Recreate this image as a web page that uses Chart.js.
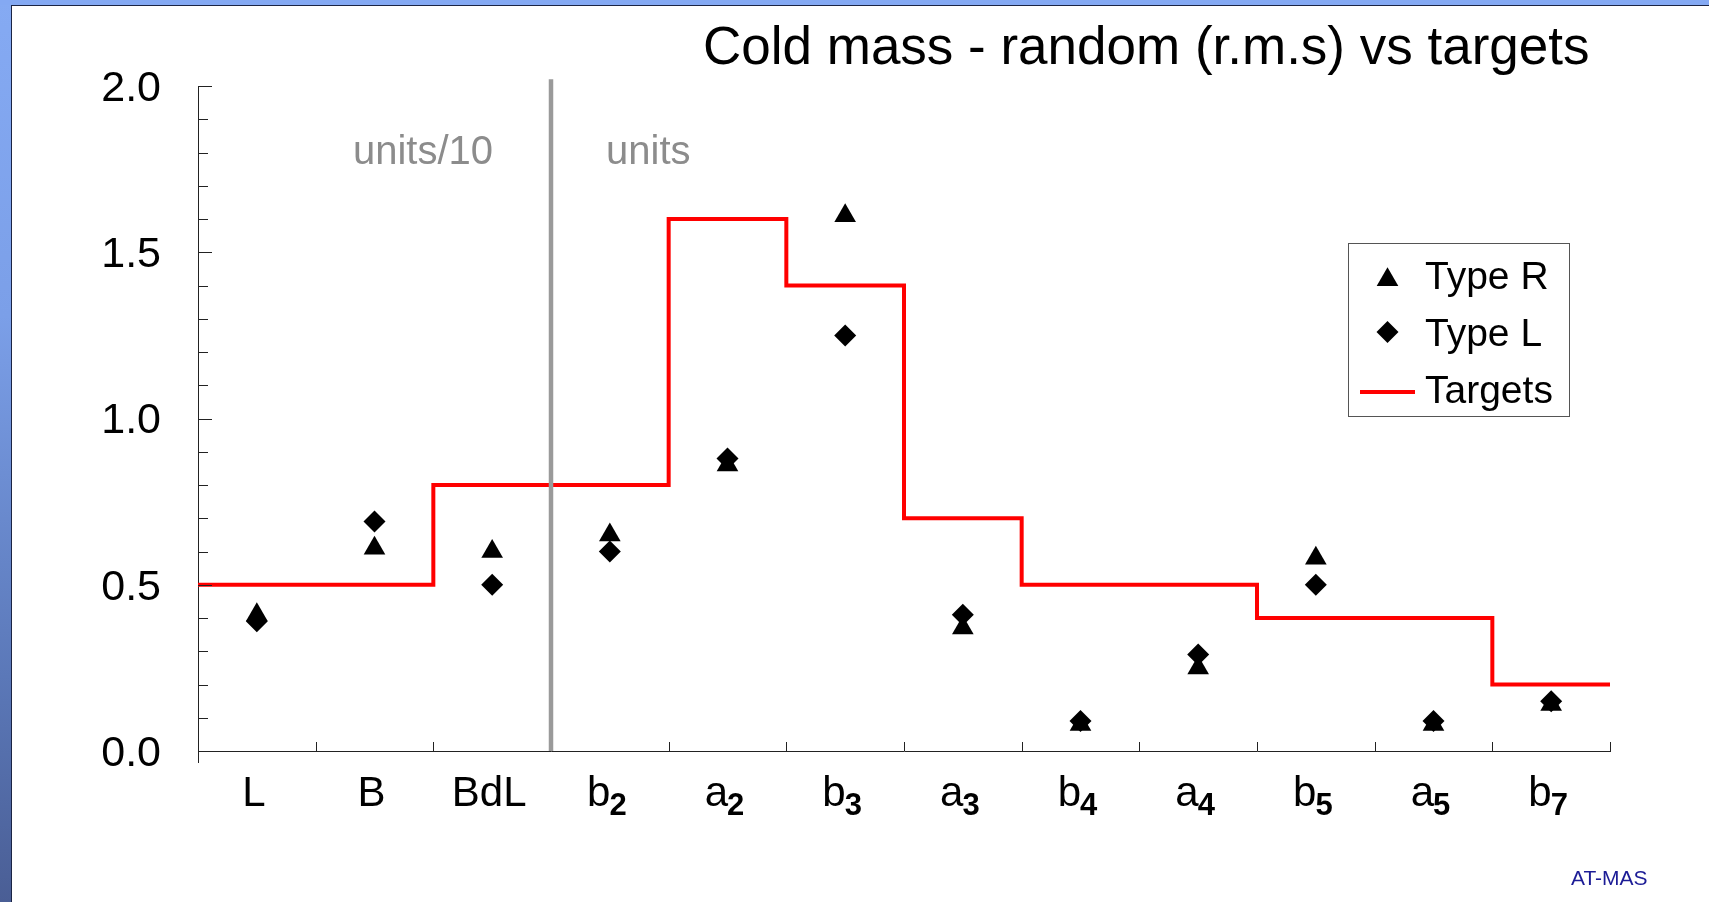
<!DOCTYPE html>
<html>
<head>
<meta charset="utf-8">
<script src="https://cdn.jsdelivr.net/npm/chart.js@4.4.0/dist/chart.umd.min.js"></script>
<style>
html, body { margin:0; padding:0; width:1709px; height:902px; overflow:hidden; }
body { position:relative; font-family:'Liberation Sans', Arial, sans-serif;
  background:linear-gradient(to bottom, #85aaf3 0%, #7b9fe8 35%, #5b78b8 75%, #4a5e95 100%); }
#topband { position:absolute; left:0; top:0; width:1709px; height:5px; background:#84a9f3; }
#sheet { position:absolute; left:11px; top:5px; right:0; bottom:0; background:#fff;
  border-left:1px solid #1b2444; border-top:1px solid #1b2444; }
#title { position:absolute; left:703px; top:14px; font-size:53px; line-height:64px; color:#000; white-space:nowrap; }
#footer { position:absolute; left:1571px; top:866px; font-size:21px; line-height:24px; color:#1c1c96; white-space:nowrap; }
canvas { position:absolute; left:0; top:0; }
</style>
</head>
<body>
<div id="topband"></div>
<div id="sheet"></div>
<canvas id="Chart" width="1709" height="902"></canvas>
<div id="title">Cold mass - random (r.m.s) vs targets</div>
<div id="footer">AT-MAS</div>
<script>
// categories (trailing digit is drawn as subscript)
var categories = ['L', 'B', 'BdL', 'b2', 'a2', 'b3', 'a3', 'b4', 'a4', 'b5', 'a5', 'b7'];
var typeR = [0.41, 0.61, 0.60, 0.65, 0.86, 1.61, 0.37, 0.08, 0.25, 0.58, 0.08, 0.14];
var typeL = [0.39, 0.69, 0.50, 0.60, 0.88, 1.25, 0.41, 0.09, 0.29, 0.50, 0.09, 0.15];
// target step line: left edge of each step (in category units) and its level
var targetEdges = [0, 2, 4, 5, 6, 7, 9, 11, 12];
var targetValues = [0.5, 0.8, 1.6, 1.4, 0.7, 0.5, 0.4, 0.2, 0.2];
var yTicks = [0, 0.5, 1.0, 1.5, 2.0];
var regionLabels = ['units/10', 'units'];

var FONT = "'Liberation Sans', Arial, sans-serif";
Chart.defaults.font.family = FONT;

function triangle(ctx, x, y, r) {
  ctx.beginPath();
  ctx.moveTo(x, y - r);
  ctx.lineTo(x + 0.866 * r, y + r / 2);
  ctx.lineTo(x - 0.866 * r, y + r / 2);
  ctx.closePath();
  ctx.fill();
}
function diamond(ctx, x, y, r) {
  ctx.beginPath();
  ctx.moveTo(x - r, y);
  ctx.lineTo(x, y - r);
  ctx.lineTo(x + r, y);
  ctx.lineTo(x, y + r);
  ctx.closePath();
  ctx.fill();
}

var decor = {
  id: 'decor',
  afterDatasetsDraw: function(chart) {
    var ctx = chart.ctx, a = chart.chartArea;
    var x = chart.scales.x, y = chart.scales.y, xt = chart.scales.xt;
    ctx.save();

    // inner ticks on y axis (major 0.5, minor 0.1)
    ctx.strokeStyle = '#222';
    ctx.lineWidth = 1;
    ctx.beginPath();
    for (var i = 0; i <= 20; i++) {
      var py = Math.round(y.getPixelForValue(i / 10)) + 0.5;
      ctx.moveTo(a.left, py);
      ctx.lineTo(a.left + (i % 5 === 0 ? 14 : 10), py);
    }
    // y axis runs a little below zero
    ctx.moveTo(a.left + 0.5, a.bottom);
    ctx.lineTo(a.left + 0.5, a.bottom + 12);
    // x ticks at category boundaries, pointing up
    for (var k = 1; k <= categories.length; k++) {
      var px = Math.round(xt.getPixelForValue(k)) + 0.5;
      ctx.moveTo(px, a.bottom);
      ctx.lineTo(px, a.bottom - 9);
    }
    ctx.stroke();

    // gray divider between BdL and b2
    var xd = xt.getPixelForValue(3);
    ctx.strokeStyle = '#9a9a9a';
    ctx.lineWidth = 4.5;
    ctx.beginPath();
    ctx.moveTo(xd, y.getPixelForValue(2.02));
    ctx.lineTo(xd, a.bottom);
    ctx.stroke();

    // region notes
    ctx.fillStyle = '#8c8c8c';
    ctx.font = '40px ' + FONT;
    ctx.textBaseline = 'middle';
    ctx.textAlign = 'right';
    ctx.fillText(regionLabels[0], xd - 58, y.getPixelForValue(1.80));
    ctx.textAlign = 'left';
    ctx.fillText(regionLabels[1], xd + 55, y.getPixelForValue(1.80));

    // category labels with subscripts
    ctx.fillStyle = '#000';
    ctx.textBaseline = 'alphabetic';
    ctx.textAlign = 'left';
    categories.forEach(function(name, i) {
      var m = name.match(/^(\D+)(\d*)$/);
      var base = m[1], sub = m[2];
      ctx.font = '42px ' + FONT;
      var wb = ctx.measureText(base).width;
      ctx.font = 'bold 31px ' + FONT;
      var ws = sub ? ctx.measureText(sub).width - 1 : 0;
      var start = x.getPixelForValue(i) - (wb + ws) / 2 - 3;
      ctx.font = '42px ' + FONT;
      ctx.fillText(base, start, a.bottom + 55);
      if (sub) {
        ctx.font = 'bold 31px ' + FONT;
        ctx.fillText(sub, start + wb - 1, a.bottom + 64);
      }
    });

    // legend box
    var ds = chart.data.datasets;
    ctx.strokeStyle = '#555';
    ctx.lineWidth = 1;
    ctx.strokeRect(1348.5, 243.5, 221, 173);
    ctx.fillStyle = '#000';
    triangle(ctx, 1387.5, 279.8, 12.5);
    diamond(ctx, 1387.5, 332, 11);
    ctx.strokeStyle = '#ff0000';
    ctx.lineWidth = 4;
    ctx.beginPath();
    ctx.moveTo(1360, 392);
    ctx.lineTo(1415, 392);
    ctx.stroke();
    ctx.font = '39px ' + FONT;
    ctx.textBaseline = 'middle';
    ctx.fillText(ds[0].label, 1425, 278);
    ctx.fillText(ds[1].label, 1425, 335);
    ctx.fillText(ds[2].label, 1425, 392);

    ctx.restore();
  }
};

var ctx = document.getElementById('Chart').getContext('2d');
var coldMassChart = new Chart(ctx, {
  type: 'line',
  data: {
    labels: categories,
    datasets: [{
      label: 'Type R',
      data: typeR,
      showLine: false,
      pointStyle: 'triangle',
      pointRadius: 12.5,
      pointBackgroundColor: '#000',
      pointBorderColor: '#000',
      pointBorderWidth: 0
    }, {
      label: 'Type L',
      data: typeL,
      showLine: false,
      pointStyle: 'rectRot',
      pointRadius: 11,
      pointBackgroundColor: '#000',
      pointBorderColor: '#000',
      pointBorderWidth: 0
    }, {
      label: 'Targets',
      data: targetEdges.map(function(e, i) { return { x: e, y: targetValues[i] }; }),
      xAxisID: 'xt',
      stepped: true,
      borderColor: '#ff0000',
      borderWidth: 4,
      pointRadius: 0,
      fill: false
    }]
  },
  options: {
    responsive: false,
    animation: false,
    layout: { padding: { top: 86, right: 99, bottom: 0, left: 0 } },
    plugins: {
      legend: { display: false },
      title: { display: false },
      tooltip: { enabled: false }
    },
    scales: {
      x: {
        type: 'category',
        offset: true,
        grid: { display: false, drawTicks: false },
        border: { display: true, color: '#222', width: 1 },
        ticks: { display: false },
        afterFit: function(s) { s.height = 151; }
      },
      xt: { type: 'linear', min: 0, max: categories.length, display: false },
      y: {
        min: 0,
        max: 2,
        grid: { display: false, drawTicks: false },
        border: { display: true, color: '#222', width: 1 },
        afterBuildTicks: function(s) { s.ticks = yTicks.map(function(v) { return { value: v }; }); },
        ticks: {
          padding: 37,
          labelOffset: 3,
          color: '#000',
          font: { size: 43 },
          callback: function(v) { return v.toFixed(1); }
        },
        afterFit: function(s) { s.width = 198; }
      }
    }
  },
  plugins: [decor]
});
</script>
</body>
</html>
